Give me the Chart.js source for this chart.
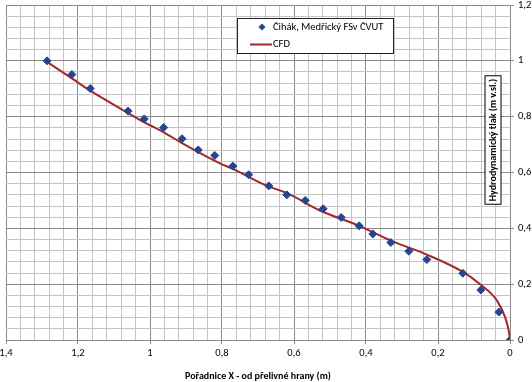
<!DOCTYPE html>
<html><head><meta charset="utf-8">
<script src="https://cdn.jsdelivr.net/npm/chart.js@4"></script>
<style>html,body{margin:0;padding:0;background:#fff}#wrap{width:532px;height:382px;position:relative}</style>
</head><body><div id="wrap"><canvas id="c"></canvas></div>
<script>
const measX = [1.286,1.217,1.166,1.061,1.016,0.962,0.911,0.866,0.820,0.770,0.726,0.670,0.620,0.569,0.519,0.469,0.419,0.381,0.331,0.281,0.231,0.131,0.081,0.031,0.0];
const measY = [1.0,0.951,0.901,0.820,0.792,0.761,0.721,0.681,0.661,0.623,0.592,0.552,0.520,0.500,0.470,0.439,0.409,0.380,0.349,0.318,0.288,0.239,0.179,0.100,0.0];
const cfdX = [0.0,0.003,0.014,0.037,0.083,0.131,0.231,0.331,0.419,0.528,0.619,0.678,0.770,0.806,0.866,0.911,0.962,1.016,1.061,1.166,1.217,1.286];
const cfdY = [0.0,0.030,0.083,0.143,0.200,0.244,0.306,0.356,0.409,0.464,0.526,0.554,0.613,0.633,0.673,0.705,0.744,0.780,0.813,0.893,0.937,0.996];
const seriesNames = ["Čihák, Medřický FSv ČVUT","CFD"];
const xTitle = "Pořadnice X - od přelivné hrany (m)";
const yTitle = "Hydrodynamický tlak (m v.sl.)";
const FONT = "Carlito, Lato, 'Liberation Sans', sans-serif";
const BLUE = "#24468F", RED = "#A3282A";
function isMajor(v){ return Math.abs(v/0.2 - Math.round(v/0.2)) < 1e-6; }
function fmt(v){ return String(Math.round(v*10)/10).replace('.',','); }
const overlay = {
  id:'overlay',
  afterDraw(chart){
    const ctx = chart.ctx;
    ctx.save();
    const lx=237, ly=18, lw=156, lh=35;
    ctx.fillStyle='#fff'; ctx.fillRect(lx,ly,lw,lh);
    ctx.strokeStyle='#222'; ctx.lineWidth=1; ctx.strokeRect(lx+0.5,ly+0.5,lw,lh);
    ctx.fillStyle=BLUE;
    ctx.beginPath(); const dx=262, dy=27;
    ctx.moveTo(dx,dy-3.5); ctx.lineTo(dx+3.5,dy); ctx.lineTo(dx,dy+3.5); ctx.lineTo(dx-3.5,dy); ctx.closePath(); ctx.fill();
    ctx.strokeStyle=RED; ctx.lineWidth=2;
    ctx.beginPath(); ctx.moveTo(250,44.5); ctx.lineTo(272,44.5); ctx.stroke();
    ctx.fillStyle='#000'; ctx.font="10.5px "+FONT; ctx.textBaseline='middle'; ctx.textAlign='left';
    ctx.fillText(seriesNames[0],273,27);
    ctx.fillText(seriesNames[1],273,44);
    ctx.translate(493,140); ctx.rotate(-Math.PI/2);
    ctx.font="bold 10px "+FONT;
    const w = ctx.measureText(yTitle).width;
    ctx.fillStyle='#fff'; ctx.fillRect(-w/2-3,-8,w+6,16);
    ctx.strokeStyle='#000'; ctx.lineWidth=1; ctx.strokeRect(-w/2-3,-8,w+6,16);
    ctx.fillStyle='#000'; ctx.textAlign='center'; ctx.fillText(yTitle,0,0.5);
    ctx.restore();
  }
};
new Chart(document.getElementById('c'),{
  type:'scatter',
  data:{datasets:[
    {label:seriesNames[0], data:measX.map((x,i)=>({x, y:measY[i]})), backgroundColor:BLUE, borderColor:BLUE, pointStyle:'rectRot', pointRadius:4, showLine:false, order:0},
    {label:seriesNames[1], data:cfdX.map((x,i)=>({x, y:cfdY[i]})), borderColor:RED, backgroundColor:RED, showLine:true, pointRadius:0, borderWidth:2, cubicInterpolationMode:'monotone', order:1}
  ]},
  options:{
    responsive:true, maintainAspectRatio:false, animation:false,
    layout:{padding:{left:6,top:4,right:0,bottom:0}},
    plugins:{legend:{display:false}, tooltip:{enabled:false}},
    scales:{
      x:{type:'linear', reverse:true, min:0, max:1.4,
        ticks:{stepSize:0.04, autoSkip:false, maxRotation:0, maxTicksLimit:100, color:'#000', font:{family:FONT,size:10.5}, padding:3,
          callback:(v)=>isMajor(v)?fmt(v):''},
        grid:{color:(c)=>isMajor(c.tick.value)?'#8a8a8a':'#c4c4c4', tickColor:(c)=>isMajor(c.tick.value)?'#8a8a8a':'rgba(0,0,0,0)', tickLength:4, lineWidth:1},
        border:{color:'#8a8a8a'},
        title:{display:true, text:xTitle, color:'#000', font:{family:FONT,size:10,weight:'bold'}, padding:{top:1,bottom:0}},
        afterFit:(s)=>{s.height=42; s.paddingLeft=0; s.paddingRight=0;}
      },
      y:{type:'linear', position:'right', min:0, max:1.2,
        ticks:{stepSize:0.04, autoSkip:false, maxTicksLimit:100, color:'#000', font:{family:FONT,size:10.5}, padding:4,
          callback:(v)=>isMajor(v)?fmt(v):''},
        grid:{color:(c)=>isMajor(c.tick.value)?'#8a8a8a':'#c4c4c4', tickColor:(c)=>isMajor(c.tick.value)?'#8a8a8a':'rgba(0,0,0,0)', tickLength:4, lineWidth:1},
        border:{color:'#8a8a8a'},
        afterFit:(s)=>{s.width=22; s.paddingTop=0; s.paddingBottom=0;}
      }
    }
  },
  plugins:[overlay]
});
</script></body></html>
